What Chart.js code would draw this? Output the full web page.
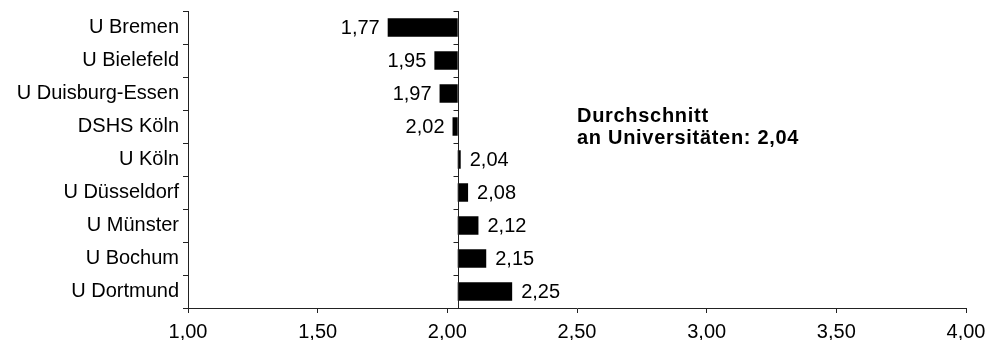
<!DOCTYPE html>
<html>
<head>
<meta charset="utf-8">
<script src="https://cdn.jsdelivr.net/npm/chart.js@4/dist/chart.umd.min.js"></script>
<style>
  html, body { margin: 0; padding: 0; background: #fff; }
  #wrap { width: 986px; height: 340px; position: relative; }
</style>
</head>
<body>
<div id="wrap"><canvas id="gradeChart"></canvas></div>
<script>
// Data
const universities = ['U Bremen', 'U Bielefeld', 'U Duisburg-Essen', 'DSHS Köln', 'U Köln',
    'U Düsseldorf', 'U Münster', 'U Bochum', 'U Dortmund'];
const grades = [1.77, 1.95, 1.97, 2.02, 2.04, 2.08, 2.12, 2.15, 2.25];
const average = 2.04;
const xTicks = [1.00, 1.50, 2.00, 2.50, 3.00, 3.50, 4.00];
const noteLines = ['Durchschnitt', 'an Universitäten: 2,04'];

const FONT = "'Liberation Sans', Arial, sans-serif";
const fmt = v => v.toFixed(2).replace('.', ',');

// value labels next to every bar + the average axis + the note
const labelPlugin = {
    id: 'barLabels',
    afterDatasetsDraw(chart) {
        const ctx = chart.ctx;
        const x = chart.scales.x;
        const y = chart.scales.y;
        const meta = chart.getDatasetMeta(0);

        // vertical axis at the average, with ticks on the category borders
        const ax = Math.round(x.getPixelForValue(average)) + 0.5;
        ctx.save();
        ctx.strokeStyle = '#222';
        ctx.lineWidth = 1;
        ctx.beginPath();
        ctx.moveTo(ax, chart.chartArea.top);
        ctx.lineTo(ax, chart.chartArea.bottom);
        for (let i = 0; i <= universities.length; i++) {
            const ty = Math.round(y.getPixelForValue(i - 0.5)) + 0.5;
            ctx.moveTo(ax - 5, ty);
            ctx.lineTo(ax, ty);
        }
        ctx.stroke();

        ctx.fillStyle = '#000';
        ctx.font = '20px ' + FONT;
        ctx.textBaseline = 'middle';
        meta.data.forEach((bar, i) => {
            const p = bar.getProps(['x', 'y', 'base'], true);
            const left = Math.min(p.x, p.base);
            const right = Math.max(p.x, p.base);
            if (grades[i] < average) {
                ctx.textAlign = 'right';
                ctx.fillText(fmt(grades[i]), left - 8, p.y + 1);
            } else {
                ctx.textAlign = 'left';
                ctx.fillText(fmt(grades[i]), right + 9, p.y + 1);
            }
        });

        // note text
        ctx.font = 'bold 20px ' + FONT;
        ctx.letterSpacing = '0.7px';
        ctx.textAlign = 'left';
        const nx = x.getPixelForValue(2.5);
        const ny = y.getPixelForValue(2.7);
        noteLines.forEach((t, k) => ctx.fillText(t, nx, ny + k * 22));
        ctx.restore();
    }
};

new Chart(document.getElementById('gradeChart'), {
    type: 'bar',
    data: {
        labels: universities,
        datasets: [{
            data: grades.map(g => [g, average]),
            backgroundColor: '#000',
            borderWidth: 0,
            categoryPercentage: 1,
            barPercentage: 0.56,
            minBarLength: 3
        }]
    },
    options: {
        indexAxis: 'y',
        responsive: true,
        maintainAspectRatio: false,
        animation: false,
        layout: { padding: { top: 11, right: 20, bottom: 0, left: 0 } },
        plugins: {
            legend: { display: false },
            tooltip: { enabled: false }
        },
        scales: {
            x: {
                min: 1,
                max: 4,
                afterBuildTicks: s => { s.ticks = xTicks.map(v => ({ value: v })); },
                afterFit: s => { s.height = 32; s.paddingLeft = 0; s.paddingRight = 0; },
                ticks: {
                    callback: v => fmt(v),
                    color: '#000',
                    font: { family: FONT, size: 20 },
                    padding: 7,
                    maxRotation: 0
                },
                grid: { drawOnChartArea: false, tickLength: 5, color: '#222' },
                border: { color: '#222' }
            },
            y: {
                afterFit: s => { s.width = 188; s.paddingTop = 0; s.paddingBottom = 0; },
                ticks: {
                    color: '#000',
                    font: { family: FONT, size: 20 },
                    padding: 4
                },
                grid: { drawOnChartArea: false, tickLength: 5, offset: true, color: '#222' },
                border: { color: '#222' }
            }
        }
    },
    plugins: [labelPlugin]
});
</script>
</body>
</html>
